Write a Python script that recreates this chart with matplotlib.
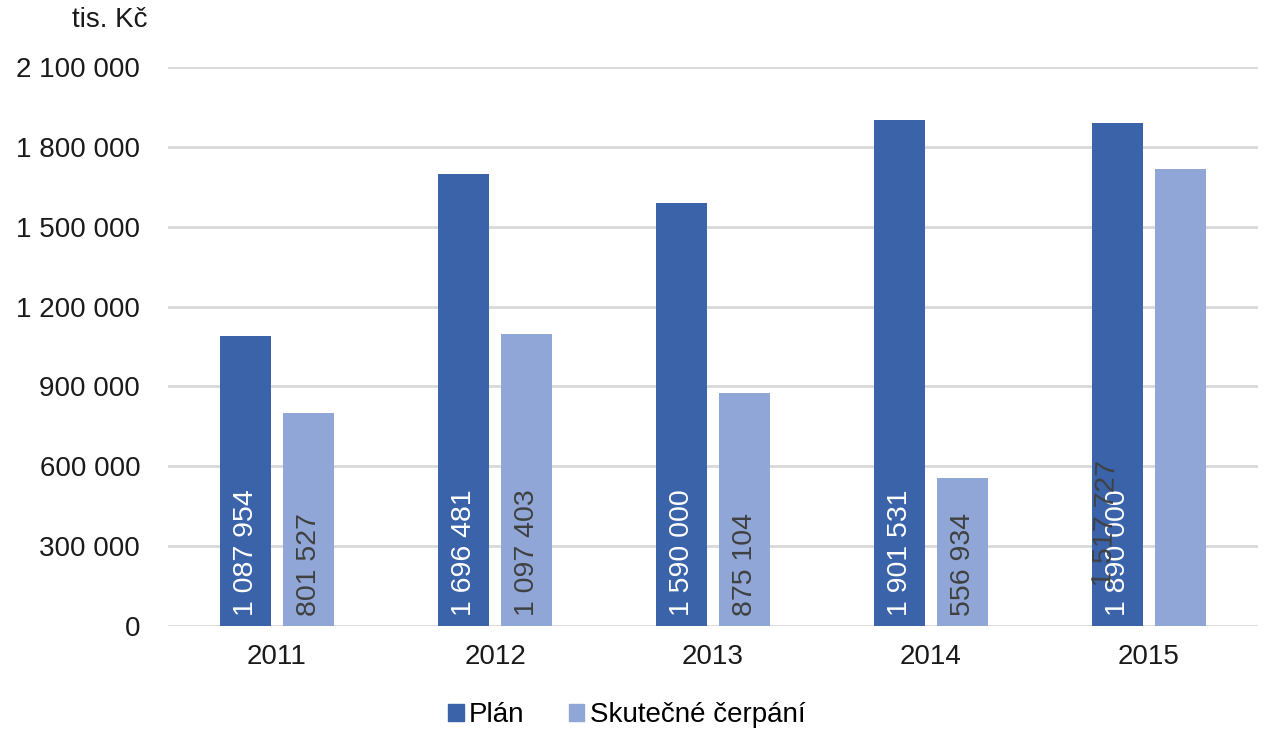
import matplotlib.pyplot as plt
import numpy as np
from matplotlib.ticker import FuncFormatter
from matplotlib.patches import Patch

plt.rcParams['font.family'] = ['Liberation Sans', 'DejaVu Sans']

years = ['2011', '2012', '2013', '2014', '2015']
plan = [1087954, 1696481, 1590000, 1901531, 1890000]
cerpani = [801527, 1097403, 875104, 556934, 1717727]
plan_labels = ['1 087 954', '1 696 481', '1 590 000', '1 901 531', '1 890 000']
cerpani_labels = ['801 527', '1 097 403', '875 104', '556 934', '1 517 727']

c_plan = '#3A63AA'
c_cerp = '#8FA6D6'


def fmt(v, pos):
    return '{:,}'.format(int(v)).replace(',', ' ')


fig = plt.figure(figsize=(12.67, 7.3), dpi=100)
ax = fig.add_axes([0.1326, 0.1425, 0.8603, 0.7658])

x = np.arange(len(years))
w = 0.234
off = 0.1445
ax.bar(x - off, plan, w, color=c_plan, zorder=3)
ax.bar(x + off, cerpani, w, color=c_cerp, zorder=3)

# popisky v sloupcich
for i in range(len(years)):
    ax.annotate(plan_labels[i], (x[i] - off, 0), xytext=(0, 7),
                textcoords='offset points', rotation=90, ha='center',
                va='bottom', color='white', fontsize=20.5, zorder=5)
    if i == len(years) - 1:
        # v originale je posledni popisek posunuty na modry sloupec
        ax.annotate(cerpani_labels[i], (x[i] - off, 0), xytext=(-8, 28),
                    textcoords='offset points', rotation=88, ha='center',
                    va='bottom', color='#404040', fontsize=20.5, zorder=5)
    else:
        ax.annotate(cerpani_labels[i], (x[i] + off, 0), xytext=(0, 7),
                    textcoords='offset points', rotation=90, ha='center',
                    va='bottom', color='#404040', fontsize=20.5, zorder=5)

ax.set_xlim(-0.5, len(years) - 0.5)
ax.set_ylim(0, 2100000)
ax.set_yticks(np.arange(0, 2100001, 300000))
ax.yaxis.set_major_formatter(FuncFormatter(fmt))
ax.set_xticks(x)
ax.set_xticklabels(years)
ax.tick_params(axis='both', length=0, labelsize=20, colors='#1a1a1a')
ax.tick_params(axis='y', pad=20)
ax.tick_params(axis='x', pad=13)
ax.grid(axis='y', color='#D9D9D9', linewidth=2, zorder=0)
for s in ax.spines.values():
    s.set_visible(False)

fig.text(147 / 1267, 1 - 20 / 730, 'tis. Kč', ha='right', va='center',
         fontsize=20, color='#1a1a1a')

handles = [Patch(color=c_plan), Patch(color=c_cerp)]
fig.legend(handles, ['Plán', 'Skutečné čerpání'], loc='center',
           bbox_to_anchor=(627 / 1267, 1 - 715 / 730), ncol=2, frameon=False,
           fontsize=20, handlelength=0.55, handleheight=0.55, handletextpad=0.2,
           columnspacing=1.6)

fig.savefig('out.png', dpi=100)
